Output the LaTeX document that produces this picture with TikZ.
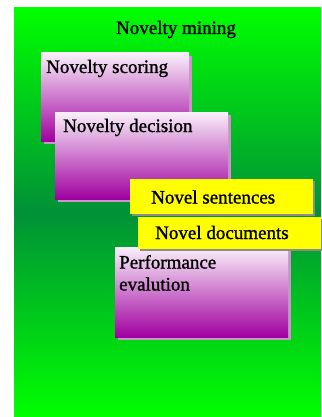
\documentclass[tikz,border=0pt]{standalone}
\usepackage{fontspec}
\setmainfont[FakeBold=1.2]{Liberation Serif}
\usetikzlibrary{shadows}
\definecolor{gtop}{RGB}{0,255,0}
\definecolor{gmid}{RGB}{0,145,55}
\definecolor{ptop}{RGB}{250,240,250}
\definecolor{pbot}{RGB}{160,0,160}
\definecolor{pshadow}{RGB}{200,150,200}
\definecolor{ybox}{RGB}{255,255,0}
\definecolor{yshadow}{RGB}{140,140,140}
\tikzset{
  purplebox/.style={rectangle, inner sep=0pt, outer sep=0pt,
    top color=ptop, bottom color=pbot,
    drop shadow={shadow xshift=3pt, shadow yshift=-3pt, fill=pshadow, opacity=1}},
  yellowbox/.style={rectangle, inner sep=0pt, outer sep=0pt, fill=ybox,
    drop shadow={shadow xshift=2pt, shadow yshift=-2pt, fill=yshadow, opacity=1}},
  lbl/.style={anchor=base west, inner sep=0pt, font=\fontsize{19}{22}\selectfont},
}
\begin{document}
\begin{tikzpicture}[x=1pt,y=-1pt]
\useasboundingbox (0,0) rectangle (321,417);
\fill[white] (0,0) rectangle (321,417);
\node[rectangle, inner sep=0pt, outer sep=0pt, minimum width=307pt, minimum height=408pt,
  top color=gtop, bottom color=gtop, middle color=gmid] (bg) at (167.5,212) {};
\node[lbl, anchor=base] (title) at (176,34) {Novelty mining};

\node[purplebox, minimum width=148pt, minimum height=88pt] (scoring) at (115,97) {};
\node[lbl] (scoringt) at (46,73) {Novelty scoring};

\node[purplebox, minimum width=173pt, minimum height=87pt] (decision) at (141.5,155.5) {};
\node[lbl] (decisiont) at (63,132) {Novelty decision};

\node[purplebox, minimum width=173pt, minimum height=90pt] (perf) at (201.5,292) {};
\node[lbl, align=left] (perft) at (119,290.5) {Performance\\evalution};

\node[yellowbox, minimum width=183pt, minimum height=35pt] (sent) at (221.5,196.5) {};
\node[lbl] (sentt) at (151,203.5) {Novel sentences};

\node[yellowbox, minimum width=183pt, minimum height=32pt] (docs) at (229.5,233) {};
\node[lbl] (docst) at (155,239) {Novel documents};
\end{tikzpicture}
\end{document}
